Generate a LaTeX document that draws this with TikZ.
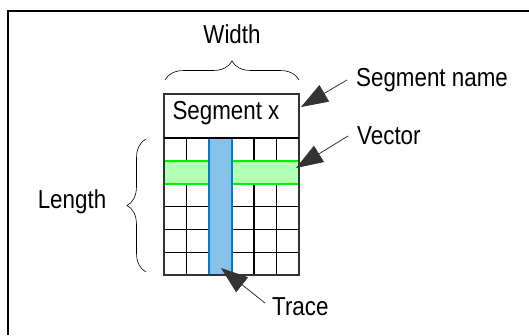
\documentclass[tikz,border=0pt]{standalone}
\usepackage{fontspec}
\setmainfont{Liberation Sans}[FakeStretch=0.86]
\usetikzlibrary{arrows.meta,decorations.pathreplacing}

\definecolor{boxgray}{RGB}{51,51,51}
\definecolor{tracefill}{RGB}{133,193,233}
\definecolor{traceline}{RGB}{0,122,204}
\definecolor{vecfill}{RGB}{179,255,179}
\definecolor{vecline}{RGB}{0,240,0}

\tikzset{
  lbl/.style={inner sep=0.75pt, font=\fontsize{26}{30}\selectfont},
  callout/.style={draw=boxgray, line width=0.8pt, -{Triangle[length=27pt,width=19pt]}},
  curly/.style={decorate, decoration={brace, amplitude=19pt}, line width=0.6pt},
}

\begin{document}
\begin{tikzpicture}[x=1pt,y=1pt,yscale=-1,xscale=1]
		\useasboundingbox (0,0) rectangle (529,335);
		
		%Shape: Frame
		\draw [line width=2pt] (8,335) -- (8,11) -- (529,11) ;
		
		%Straight Lines: grid
		\foreach \gx in {186.5,209,231.5,254,276.5}
		  \draw [line width=1.4pt] (\gx,138) -- (\gx,275) ;
		\foreach \gy in {160.8,183.7,206.5,229.3,252.2}
		  \draw [line width=1.4pt] (164,\gy) -- (299,\gy) ;
		
		%Shape: Rectangle (vector)
		\draw [draw=vecline, fill=vecfill, line width=2.2pt] (164,161) rectangle (299,184) ;
		%Shape: Rectangle (trace)
		\draw [draw=traceline, fill=tracefill, line width=2pt] (209,138) rectangle (232,275) ;
		
		%Shape: Rectangle (segment)
		\draw [draw=boxgray, line width=2pt] (164,94) rectangle (299,275) ;
		\draw [line width=1.4pt] (164,138) -- (299,138) ;
		
		%Braces
		\draw [curly] (165,80) -- (299,80) ;
		\draw [curly] (146,272) -- (146,139) ;
		
		% Text Node
		\node [lbl] (segx) at (226,113) {Segment x};
		% Text Node
		\node [lbl] (width) at (232,34) {Width};
		% Text Node
		\node [lbl] (length) at (72,202) {Length};
		% Text Node
		\node [lbl, anchor=west, inner xsep=9pt] (segname) at (347,80) {Segment name};
		% Text Node
		\node [lbl, anchor=west, inner xsep=9pt] (vector) at (348,136) {Vector};
		% Text Node
		\node [lbl, anchor=west, inner xsep=7pt] (trace) at (265,307) {Trace};
		
		%Callout tips
		\coordinate (segtip) at (301,107);
		\coordinate (vectip) at (296,168);
		\coordinate (tracetip) at (221,268);
		
		%Straight Lines: callouts
		\draw [callout] (segname.west) -- (segtip) ;
		\draw [callout] (vector.west) -- (vectip) ;
		\draw [callout] ([yshift=-4pt]trace.west) -- (tracetip) ;
		
\end{tikzpicture}
\end{document}
